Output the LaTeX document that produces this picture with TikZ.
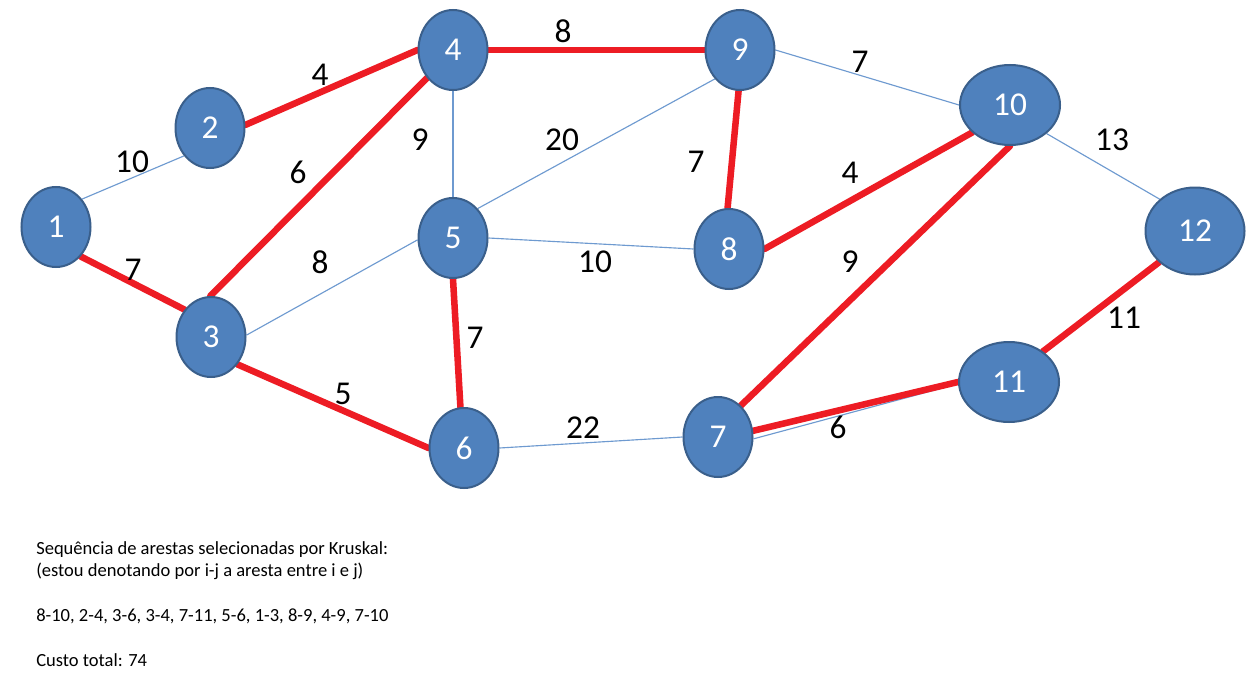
\documentclass[tikz,border=0pt]{standalone}
\usepackage{fontspec}
\setmainfont{Carlito}
\usetikzlibrary{shapes.geometric,backgrounds}

\definecolor{nodeblue}{HTML}{4F81BD}
\definecolor{nodeedge}{HTML}{3A5F8B}
\definecolor{edgeblue}{HTML}{6E9AD0}
\definecolor{treered}{HTML}{ED1C24}

\tikzset{
  vtx/.style={ellipse, fill=nodeblue, draw=nodeedge, line width=1.5pt,
    text=white, font=\fontsize{25}{30}\selectfont,
    minimum width=51.75pt, minimum height=60pt, inner sep=0pt},
  vwide/.style={vtx, minimum width=75pt},
  thinedge/.style={draw=edgeblue, line width=0.85pt},
  treeedge/.style={draw=treered, line width=4.9pt, line cap=round},
  wlabel/.style={font=\fontsize{25}{30}\selectfont, inner sep=0pt},
  note/.style={font=\fontsize{13.9}{16}\selectfont, inner sep=0pt, anchor=base west}
}

\begin{document}
\begin{tikzpicture}[x=0.75pt,y=-0.75pt]
\useasboundingbox (0,0) rectangle (1249,699);

% vertices
\node[vtx]   (n1)  at (56,227)   {1};
\node[vtx]   (n2)  at (210,128)  {2};
\node[vtx]   (n3)  at (211,337)  {3};
\node[vtx]   (n4)  at (453,50)   {4};
\node[vtx]   (n5)  at (453,238)  {5};
\node[vtx]   (n6)  at (464,448)  {6};
\node[vtx]   (n7)  at (718,437)  {7};
\node[vtx]   (n8)  at (729,249)  {8};
\node[vtx]   (n9)  at (740,50)   {9};
\node[vwide] (n10) at (1010,105) {10};
\node[vwide] (n11) at (1009,382) {11};
\node[vwide, minimum width=74.25pt, minimum height=65.25pt] (n12) at (1195,231) {12};

% edges, kept behind the vertices
\begin{scope}[on background layer]
  \fill[white] (0,0) rectangle (1249,699);
  % edges of the graph
  \draw[thinedge] (n1.47)  -- (n2.227);
  \draw[thinedge] (n3.3)   -- (n5.183);
  \draw[thinedge] (n4.south) -- (n5.north);
  \draw[thinedge] (n5.50)  -- (n9.229);
  \draw[thinedge] (n5.0)   -- (n8.180);
  \draw[thinedge] (n9.0)   -- (n10.180);
  \draw[thinedge] (n10.-38) -- (n12.138);
  \draw[thinedge] (n6.0)   -- (n7.180);
  \draw[thinedge] (n7.-3)  -- (n11.182);
  % edges chosen by Kruskal
  \draw[treeedge] (n1.-50) -- (n3.134);
  \draw[treeedge] (n2.5)   -- (n4.180);
  \draw[treeedge] (n3.91)  -- (n4.227);
  \draw[treeedge] (n3.-46) -- (n6.180);
  \draw[treeedge] (n4.0)   -- (n9.180);
  \draw[treeedge] (n5.270) -- (n6.95);
  \draw[treeedge] (n9.268) -- (n8.92);
  \draw[treeedge] (n8.0)   -- (n10.216);
  \draw[treeedge] (n7.54)  -- (n10.270);
  \draw[treeedge] (n7.10)  -- (n11.180);
  \draw[treeedge] (n11.42) -- (n12.221);
\end{scope}

% weights
\node[wlabel] (w12)  at (132,162) {10};
\node[wlabel] (w24)  at (320,75)  {4};
\node[wlabel] (w34)  at (298,172) {6};
\node[wlabel] (w45)  at (420,140) {9};
\node[wlabel] (w49)  at (563,31)  {8};
\node[wlabel] (w59)  at (562,140) {20};
\node[wlabel] (w910) at (860,62)  {7};
\node[wlabel] (w89)  at (696,162) {7};
\node[wlabel] (w810) at (850,173) {4};
\node[wlabel] (w1012) at (1112,140) {13};
\node[wlabel] (w13)  at (133,270) {7};
\node[wlabel] (w35)  at (320,262) {8};
\node[wlabel] (w58)  at (595,262) {10};
\node[wlabel] (w710) at (850,262) {9};
\node[wlabel] (w1112) at (1124,318) {11};
\node[wlabel] (w56)  at (475,338) {7};
\node[wlabel] (w36)  at (343,394) {5};
\node[wlabel] (w67)  at (583,428) {22};
\node[wlabel] (w711) at (838,427) {6};

% notes below the graph
\node[note] (t1) at (36,554) {Sequência de arestas selecionadas por Kruskal:};
\node[note] (t2) at (36,576) {(estou denotando por i-j a aresta entre i e j)};
\node[note] (t3) at (36,621) {8-10, 2-4, 3-6, 3-4, 7-11, 5-6, 1-3, 8-9, 4-9, 7-10};
\node[note] (t4) at (36,666) {Custo total: 74};
\end{tikzpicture}
\end{document}
